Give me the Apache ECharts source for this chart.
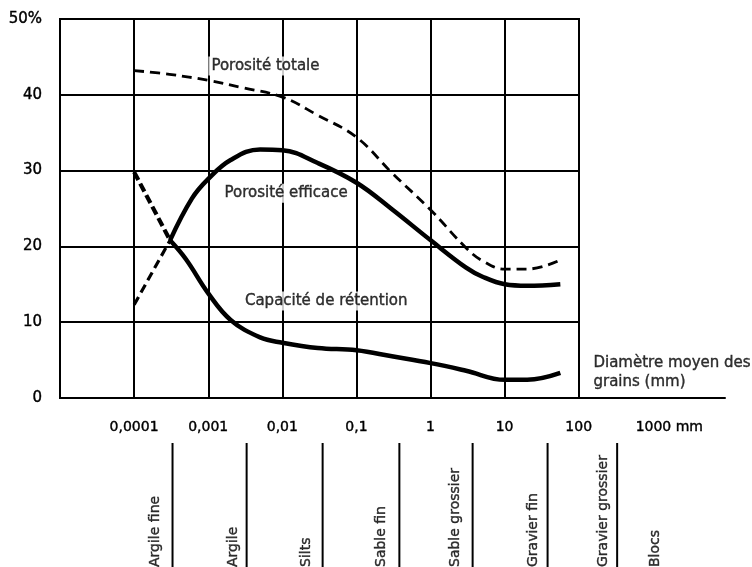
<!DOCTYPE html>
<html>
<head>
<meta charset="utf-8">
<script src="https://cdn.jsdelivr.net/npm/echarts@6/dist/echarts.min.js"></script>
<style>
html,body{margin:0;padding:0;background:#fff;}
#chart{width:752px;height:567px;}
</style>
</head>
<body>
<div id="chart"></div>
<script>
// ---- Data ----
// Porosité totale (dashed)
const totaleX = [0.0001, 0.0003, 0.001, 0.003, 0.01, 0.03, 0.1, 0.3, 1, 3, 5, 10, 20, 56];
const totaleY = [43.2, 42.7, 41.9, 40.9, 39.7, 37.3, 34.4, 29.7, 24.8, 19.8, 18.1, 17.0, 17.0, 18.2];

// Porosité efficace: dashed start then solid
const efficaceDashX = [0.0001, 0.000305];
const efficaceDashY = [12.3, 20.8];
const efficaceX = [0.000305, 0.0006, 0.001, 0.002, 0.005, 0.01, 0.03, 0.1, 0.3, 1, 3, 5, 10, 20, 56];
const efficaceY = [20.8, 26.3, 28.9, 31.4, 32.8, 32.7, 31.0, 28.4, 24.9, 20.8, 17.2, 16.0, 15.0, 14.8, 15.0];

// Capacité de rétention: dashed start then solid
const retentionDashX = [0.0001, 0.000305];
const retentionDashY = [29.8, 20.8];
const retentionX = [0.000305, 0.0005, 0.001, 0.002, 0.005, 0.01, 0.03, 0.1, 0.3, 1, 3, 10, 20, 56];
const retentionY = [20.8, 18.3, 13.8, 10.3, 8.0, 7.3, 6.6, 6.3, 5.5, 4.6, 3.6, 2.4, 2.4, 3.3];

// Axis ticks
const yTicks = [0, 10, 20, 30, 40, 50];
const yTickLabels = ['0', '10', '20', '30', '40', '50%'];
const xTickValues = [0.0001, 0.001, 0.01, 0.1, 1, 10, 100, 1000];
const xTickLabels = ['0,0001', '0,001', '0,01', '0,1', '1', '10', '100', '1000 mm'];

// Grain size classes
const classNames = ['Argile fine', 'Argile', 'Silts', 'Sable fin', 'Sable grossier', 'Gravier fin', 'Gravier grossier', 'Blocs'];
const classCenters = [0.000175, 0.00197, 0.019, 0.195, 2.0, 22, 194, 1000];
const classBounds = [0.00033, 0.0033, 0.035, 0.38, 3.7, 38, 330];

// Curve annotations
const annotNames = ['Porosité totale', 'Porosité efficace', 'Capacité de rétention'];
const annotX = [0.0059, 0.0112, 0.039];
const annotY = [43.8, 27.0, 12.8];
const axisTitle = 'Diamètre moyen des\ngrains (mm)';
const axisTitleX = 158;
const axisTitleY = 3.3;

// ---- Chart ----
const FONT = 'DejaVu Sans';
const INK = '#000';
const HEAVY = {textBorderColor: '#000', textBorderWidth: 0.4};
const zip = (xs, ys) => xs.map((x, i) => [x, ys[i]]);
const LOGMAX = Math.pow(10, 3.974);

function xLabel(v) {
  const e = Math.log10(v);
  const r = Math.round(e);
  if (Math.abs(e - r) > 1e-6) return '';
  const idx = xTickValues.findIndex(t => Math.abs(Math.log10(t) - r) < 1e-6);
  if (idx < 0) return '';
  const s = xTickLabels[idx];
  if (s.indexOf(' ') >= 0) return '{w|' + s + '}';
  return s;
}

const boundSeries = classBounds.map((b, i) => ({
  name: 'limite ' + (i + 1), type: 'line', xAxisIndex: 2, yAxisIndex: 2, symbol: 'none', silent: true,
  data: [[b, 0], [b, 1]], lineStyle: {color: '#000', width: 2}
}));

const chart = echarts.init(document.getElementById('chart'), null, {renderer: 'canvas'});
const option = {
  backgroundColor: '#fff',
  animation: false,
  grid: [
    {left: 60, top: 19, width: 519, height: 379, show: true, borderColor: '#000', borderWidth: 2, backgroundColor: 'transparent'},
    {left: 60, top: 19, width: 665, height: 379},
    {left: 60, top: 443, width: 665, height: 124}
  ],
  xAxis: [
    {gridIndex: 0, type: 'log', logBase: 10, min: 0.00001, max: 100,
      axisLine: {show: false}, axisTick: {show: false}, axisLabel: {show: false},
      splitLine: {show: true, lineStyle: {color: '#000', width: 2}}},
    {gridIndex: 1, type: 'log', logBase: 10, min: 0.00001, max: LOGMAX,
      axisLine: {show: true, lineStyle: {color: '#000', width: 2}}, axisTick: {show: false},
      splitLine: {show: false},
      axisLabel: Object.assign({show: true, margin: 22, color: INK, fontFamily: FONT, fontSize: 14,
        showMinLabel: false, showMaxLabel: false,
        formatter: xLabel,
        rich: {w: Object.assign({fontFamily: FONT, fontSize: 14, color: INK, padding: [0, 0, 0, 33]}, HEAVY)}}, HEAVY)},
    {gridIndex: 2, type: 'log', logBase: 10, min: 0.00001, max: LOGMAX, show: false}
  ],
  yAxis: [
    {gridIndex: 0, type: 'value', min: 0, max: 50, interval: 10,
      axisLine: {show: false}, axisTick: {show: false},
      splitLine: {show: true, lineStyle: {color: '#000', width: 2}},
      axisLabel: Object.assign({margin: 18, color: INK, fontFamily: FONT, fontSize: 15,
        formatter: v => { const i = yTicks.indexOf(v); return i >= 0 ? yTickLabels[i] : ''; }}, HEAVY)},
    {gridIndex: 1, type: 'value', min: 0, max: 50, show: false},
    {gridIndex: 2, type: 'value', min: 0, max: 1, show: false}
  ],
  series: [
    {name: 'Porosité totale', type: 'line', xAxisIndex: 0, yAxisIndex: 0, smooth: 0.4, symbol: 'none',
      data: zip(totaleX, totaleY), lineStyle: {color: '#000', width: 2.8, type: [10, 6]}},
    {name: 'Porosité efficace (début)', type: 'line', xAxisIndex: 0, yAxisIndex: 0, symbol: 'none',
      data: zip(efficaceDashX, efficaceDashY), lineStyle: {color: '#000', width: 3.2, type: [9, 5]}},
    {name: 'Porosité efficace', type: 'line', xAxisIndex: 0, yAxisIndex: 0, smooth: 0.4, symbol: 'none',
      data: zip(efficaceX, efficaceY), lineStyle: {color: '#000', width: 4.5}},
    {name: 'Capacité de rétention (début)', type: 'line', xAxisIndex: 0, yAxisIndex: 0, symbol: 'none',
      data: zip(retentionDashX, retentionDashY), lineStyle: {color: '#000', width: 4.2, type: [9, 4]}},
    {name: 'Capacité de rétention', type: 'line', xAxisIndex: 0, yAxisIndex: 0, smooth: 0.4, symbol: 'none',
      data: zip(retentionX, retentionY), lineStyle: {color: '#000', width: 4.5}},
    {name: 'annotations', type: 'scatter', xAxisIndex: 0, yAxisIndex: 0, symbolSize: 0, z: 10,
      data: annotNames.map((n, i) => ({name: n, value: [annotX[i], annotY[i]]})),
      label: Object.assign({show: true, position: 'inside', formatter: p => p.name, color: INK, fontFamily: FONT, fontSize: 15,
        backgroundColor: '#fff', padding: [2, 3]}, HEAVY)},
    {name: 'titre axe', type: 'scatter', xAxisIndex: 1, yAxisIndex: 1, symbolSize: 0,
      data: [{name: axisTitle, value: [axisTitleX, axisTitleY]}],
      label: Object.assign({show: true, position: [0, 0], align: 'left', verticalAlign: 'middle', formatter: p => p.name,
        color: INK, fontFamily: FONT, fontSize: 15, lineHeight: 19}, HEAVY)},
    {name: 'classes', type: 'scatter', xAxisIndex: 2, yAxisIndex: 2, symbolSize: 0,
      data: classNames.map((n, i) => ({name: n, value: [classCenters[i], 0]})),
      label: Object.assign({show: true, position: [0, 0], rotate: 90, align: 'left', verticalAlign: 'middle', offset: [0, 3],
        formatter: p => p.name, color: INK, fontFamily: FONT, fontSize: 14}, HEAVY)}
  ].concat(boundSeries)
};
chart.setOption(option);
</script>
</body>
</html>
